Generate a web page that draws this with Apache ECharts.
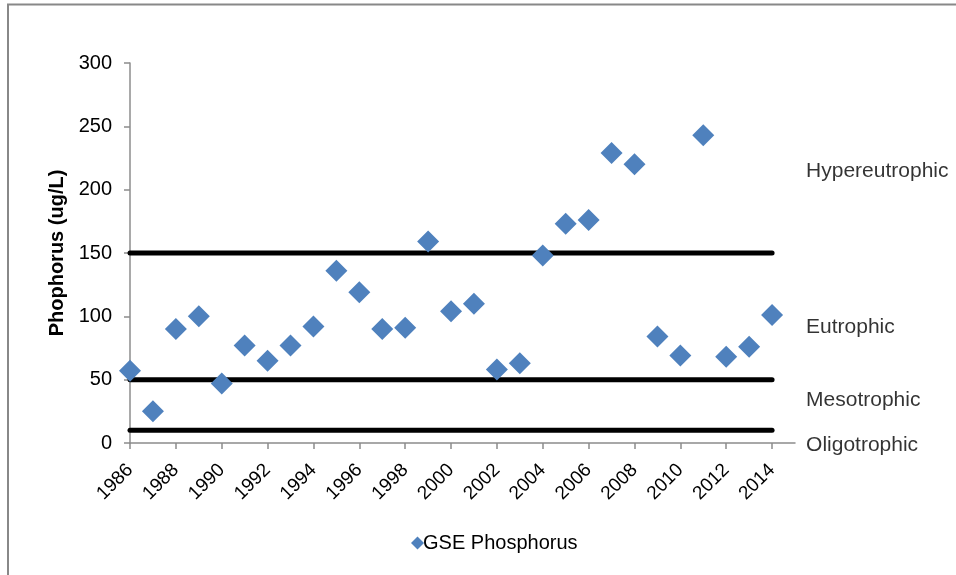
<!DOCTYPE html>
<html><head><meta charset="utf-8">
<script src="https://cdn.jsdelivr.net/npm/echarts@6/dist/echarts.min.js"></script>
<style>html,body{margin:0;padding:0;background:#fff}#c{width:956px;height:575px}</style>
</head><body><div id="c"></div>
<script>
const years = [1986,1987,1988,1989,1990,1991,1992,1993,1994,1995,1996,1997,1998,1999,2000,2001,2002,2003,2004,2005,2006,2007,2008,2009,2010,2011,2012,2013,2014];
const phosphorus = [57,25,90,100,47,77,65,77,92,136,119,90,91,159,104,110,58,63,148,173,176,229,220,84,69,243,68,76,101];
const thresholds = [150,50,10];
const zoneNames = ['Hypereutrophic','Eutrophic','Mesotrophic','Oligotrophic'];
const zoneLabelY = [216,93,35,0];
const xTickLabels = [1986,1988,1990,1992,1994,1996,1998,2000,2002,2004,2006,2008,2010,2012,2014];
const yTickLabels = [0,50,100,150,200,250,300];

const font = 'Liberation Sans, Arial, sans-serif';
const series = [];
thresholds.forEach(function(t){
  series.push({type:'line', name:'t'+t, data:[[years[0],t],[years[years.length-1],t]], symbol:'none',
    lineStyle:{color:'#000', width:5, cap:'round'}, silent:true, z:1});
});
series.push({type:'scatter', name:'GSE Phosphorus', data: years.map((y,i)=>[y,phosphorus[i]]),
  symbol:'diamond', symbolSize:[22,22], itemStyle:{color:'#4f81bd', opacity:1}, z:5});
series.push({type:'scatter', name:'zones', data: zoneLabelY.map((v,i)=>[years[years.length-1],v,zoneNames[i]]),
  symbolSize:0, silent:true, clip:false,
  label:{show:true, position:'right', distance:34, offset:[0,2], formatter:p=>p.data[2], color:'#000', fontSize:21, fontFamily:font}});

const chart = echarts.init(document.getElementById('c'));
chart.setOption({
  animation:false,
  textStyle:{fontFamily:font},
  grid:{left:130, right:161, top:63, bottom:132, containLabel:false},
  xAxis:{type:'value', min:1986, max:2015, interval:2,
    axisLine:{lineStyle:{color:'#8c8c8c', width:1.5}},
    axisTick:{show:true, length:6, lineStyle:{color:'#8c8c8c', width:1.5}, customValues:xTickLabels},
    axisLabel:{rotate:45, fontSize:19, color:'#000', fontFamily:font, margin:24, customValues:xTickLabels, formatter:v=>String(v)},
    splitLine:{show:false}},
  yAxis:{type:'value', min:0, max:300, interval:50,
    name:'Phophorus (ug/L)', nameLocation:'middle', nameGap:62, nameRotate:90,
    nameTextStyle:{fontWeight:'bold', fontSize:20, color:'#000', fontFamily:font},
    axisLine:{show:true, lineStyle:{color:'#8c8c8c', width:1.5}},
    axisTick:{show:true, length:6, lineStyle:{color:'#8c8c8c', width:1.5}},
    axisLabel:{fontSize:20, color:'#000', fontFamily:font, margin:18, customValues:yTickLabels},
    splitLine:{show:false}},
  legend:{data:[{name:'GSE Phosphorus', icon:'diamond'}], bottom:17, left:406, itemWidth:13, itemHeight:13, itemGap:1,
    textStyle:{fontSize:20, color:'#000', fontFamily:font, padding:[0,0,0,-6]}},
  graphic:[{type:'polyline', shape:{points:[[8,575],[8,4.5],[956,4.5]]}, style:{stroke:'#888', lineWidth:2, fill:null}, silent:true}],
  series: series
});
</script></body></html>
